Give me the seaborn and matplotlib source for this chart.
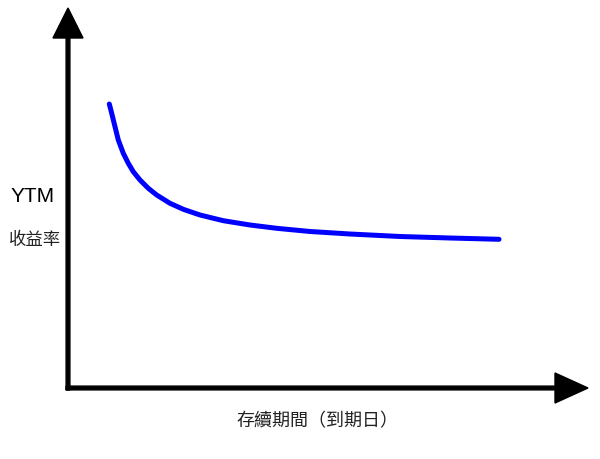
import numpy as np
import pandas as pd
import matplotlib
matplotlib.use("Agg")
import matplotlib.pyplot as plt
import seaborn as sns
from matplotlib.patches import FancyArrow

# Data (arbitrary units)
duration = [4.13, 4.37, 4.70, 5.03, 5.53, 6.03, 6.53, 7.20, 8.03, 8.87, 10.20,
            11.53, 13.20, 15.53, 18.20, 20.87, 24.20, 28.20, 33.20, 38.20, 43.10]
ytm = [28.40, 27.47, 26.13, 24.80, 23.47, 22.47, 21.63, 20.80, 19.97, 19.30, 18.47,
       17.87, 17.30, 16.73, 16.30, 15.97, 15.65, 15.40, 15.15, 15.00, 14.87]

x_label = "存續期間（到期日）"
y_label_en = "YTM"
y_label_zh = "收益率"

sns.set_style("white")
plt.rcParams['font.family'] = ['Noto Sans CJK TC', 'DejaVu Sans']

fig = plt.figure(figsize=(6, 4.59), dpi=100)
ax = fig.add_axes([0, 0, 1, 1])

df = pd.DataFrame({"duration": duration, "ytm": ytm})
sns.lineplot(data=df, x="duration", y="ytm", ax=ax, color="#0000ff",
             linewidth=3.6, solid_capstyle="round", solid_joinstyle="round")

ax.set_xlim(-6.8, 53.2)
ax.set_ylim(-7.1, 38.8)
ax.set_axis_off()

# Axes arrows
ax.add_patch(FancyArrow(0, -0.2, 0, 38.2, width=0.38, head_width=3.0,
                        head_length=3.0, length_includes_head=True,
                        color="black", zorder=3))
ax.add_patch(FancyArrow(-0.2, 0, 52.2, 0, width=0.38, head_width=3.0,
                        head_length=3.3, length_includes_head=True,
                        color="black", zorder=3))

ax.text(-3.5, 19.1, y_label_en, ha="center", va="center", fontsize=15,
        family=["Liberation Sans", "DejaVu Sans"], color="black")
ax.text(-3.3, 14.8, y_label_zh, ha="center", va="center", fontsize=12.5,
        color="#222222")
ax.text(24.9, -3.3, x_label, ha="center", va="center", fontsize=13,
        color="#222222")

fig.savefig("out.png", dpi=100)
